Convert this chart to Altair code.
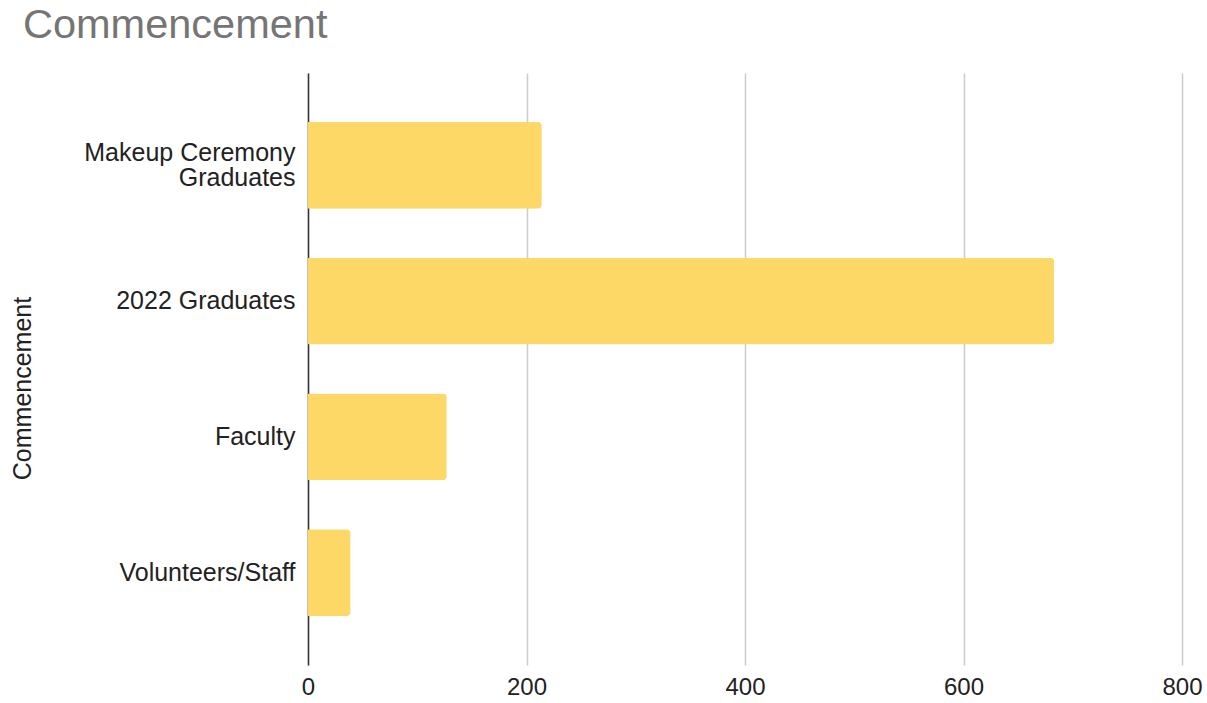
import altair as alt
import pandas as pd

categories = ["Makeup Ceremony Graduates", "2022 Graduates", "Faculty", "Volunteers/Staff"]
values = [214, 683, 127, 39]
x_ticks = [0, 200, 400, 600, 800]

df = pd.DataFrame({"category": categories, "value": values})

FONT = "Liberation Sans"

chart = alt.Chart(df).mark_bar(color="#FDD866", cornerRadiusEnd=4).encode(
    x=alt.X("value:Q",
            scale=alt.Scale(domain=[0, 800], nice=False),
            axis=alt.Axis(values=x_ticks, title=None, domain=False, ticks=False,
                          grid=True, gridColor="#CCCCCC", gridWidth=1.5,
                          labelFont=FONT, labelFontSize=24, labelColor="#222222",
                          labelPadding=10, labelFlush=False)),
    y=alt.Y("category:N", sort=categories,
            scale=alt.Scale(paddingInner=0.36, paddingOuter=0.36),
            axis=alt.Axis(title="Commencement", ticks=False, domain=True,
                          domainColor="#333333", domainWidth=1.5,
                          labelFont=FONT, labelFontSize=25, labelColor="#222222",
                          labelPadding=13, labelLineHeight=25, labelLimit=400,
                          labelOffset={"condition": {"test": "datum.value == 'Makeup Ceremony Graduates'", "value": -12.5}, "value": 0},
                          labelExpr="datum.value == 'Makeup Ceremony Graduates' ? ['Makeup Ceremony', 'Graduates'] : datum.label",
                          titleFont=FONT, titleFontSize=25, titleColor="#222222",
                          titleFontWeight="normal", titleAngle=-90,
                          titleX=-286, titleY=315, titleAlign="center",
                          titleBaseline="middle")),
).properties(
    width=874,
    height=592,
    title=alt.TitleParams("Commencement", anchor="start", frame="group",
                          font=FONT, fontSize=41.5, fontWeight="normal",
                          color="#757575", dx=-285, baseline="alphabetic", offset=-6),
    autosize=alt.AutoSizeParams(type="none"),
    padding={"left": 308, "top": 73, "right": 25, "bottom": 38},
).configure_view(stroke=None)

chart.save("out.html", embed_options={"renderer": "svg", "actions": False})
